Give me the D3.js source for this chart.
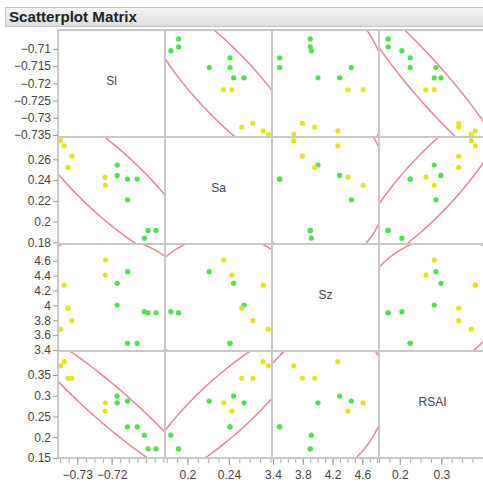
<!DOCTYPE html>
<html><head><meta charset="utf-8">
<script src="https://cdn.jsdelivr.net/npm/d3@7"></script>
<style>
body{margin:0;background:#fff}
svg{display:block}
text{font-family:"Liberation Sans",Arial,sans-serif}
</style></head>
<body>
<svg id="chart" width="483" height="483"></svg>
<script>
// ---- data ----
const varNames = ["Sl", "Sa", "Sz", "RSAI"];
const group = ["g","g","g","g","g","g","g","g","y","y","y","y","y","y"];
const Sl   = [-0.7071,-0.7094,-0.7105,-0.7126,-0.7154,-0.7154,-0.7184,-0.7184,-0.7218,-0.7219,-0.7327,-0.7316,-0.7338,-0.7348];
const Sa   = [0.1915,0.1915,0.184,0.241,0.241,0.221,0.2445,0.2545,0.235,0.2428,0.2523,0.263,0.273,0.278];
const Sz   = [3.901,3.901,3.915,3.49,3.49,4.452,4.296,4.005,4.611,4.406,3.962,3.794,4.271,3.68];
const RSAI = [0.172,0.172,0.205,0.225,0.225,0.287,0.299,0.283,0.283,0.263,0.342,0.342,0.382,0.372];
// axis extents
const domSl = [-0.7356, -0.7045];
const domSa = [0.1784, 0.2815];
const domSz = [3.387, 4.824];
const domRSAI = [0.1499, 0.4077];
// tick labels
const yTicksSl = [-0.71,-0.715,-0.72,-0.725,-0.73,-0.735];
const yTicksSa = [0.18,0.2,0.22,0.24,0.26];
const yTicksSz = [3.4,3.6,3.8,4,4.2,4.4,4.6];
const yTicksRSAI = [0.15,0.2,0.25,0.3,0.35];
const xTicksSl = [-0.73,-0.72];
const xTicksSa = [0.2,0.24];
const xTicksSz = [3.4,3.8,4.2,4.6];
const xTicksRSAI = [0.2,0.3];
const xMinorStep = [0.0025, 0.01, 0.1, 0.025];

// ---- layout ----
const cols = [Sl, Sa, Sz, RSAI];
const doms = [domSl, domSa, domSz, domRSAI];
const yTicks = [yTicksSl, yTicksSa, yTicksSz, yTicksRSAI];
const xTicks = [xTicksSl, xTicksSa, xTicksSz, xTicksRSAI];
const X0 = 58, Y0 = 30, CS = 107, N = 4;
const colorOf = {g: "#52e052", y: "#e4e41e"};
const ellipseColor = "#e3828f";
const gridColor = "#c8c8c8";
const textColor = "#444";

const svg = d3.select("#chart");

// title bar
const defs = svg.append("defs");
const grad = defs.append("linearGradient").attr("id","tb").attr("x1",0).attr("y1",0).attr("x2",0).attr("y2",1);
grad.append("stop").attr("offset","0%").attr("stop-color","#f4f4f4");
grad.append("stop").attr("offset","100%").attr("stop-color","#dedede");
svg.append("rect").attr("x",5.5).attr("y",7.5).attr("width",490).attr("height",19)
  .attr("fill","url(#tb)").attr("stroke","#c4c4c4");
svg.append("text").attr("x",9).attr("y",22).attr("font-size",14).attr("font-weight","bold")
  .attr("fill","#222").attr("textLength",128).attr("lengthAdjust","spacingAndGlyphs")
  .text("Scatterplot Matrix");

const xs = doms.map(d => d3.scaleLinear().domain(d).range([0, CS]));
const ys = doms.map(d => d3.scaleLinear().domain(d).range([CS, 0]));

// density ellipse radius (in standard deviations)
const ellK = 2.62;
function ellipse(xv, yv) {
  const mx = d3.mean(xv), my = d3.mean(yv), m = xv.length;
  let sxx = 0, syy = 0, sxy = 0;
  for (let i = 0; i < m; i++) {
    sxx += (xv[i]-mx)**2; syy += (yv[i]-my)**2; sxy += (xv[i]-mx)*(yv[i]-my);
  }
  sxx /= (m-1); syy /= (m-1); sxy /= (m-1);
  const l11 = Math.sqrt(sxx), l21 = sxy / l11, l22 = Math.sqrt(Math.max(syy - l21*l21, 0));
  return d3.range(0, 361, 2).map(a => {
    const t = a * Math.PI / 180;
    return [mx + ellK * l11 * Math.cos(t), my + ellK * (l21 * Math.cos(t) + l22 * Math.sin(t))];
  });
}

for (let r = 0; r < N; r++) {
  for (let c = 0; c < N; c++) {
    const gx = X0 + c * CS, gy = Y0 + r * CS;
    const cell = svg.append("g").attr("transform", `translate(${gx},${gy})`);
    if (r === c) {
      cell.append("text").attr("x", CS/2).attr("y", CS/2 + 1).attr("text-anchor","middle")
        .attr("font-size", 12).attr("fill", textColor).text(varNames[r]);
      continue;
    }
    const cid = `clip${r}${c}`;
    defs.append("clipPath").attr("id", cid).append("rect").attr("width", CS).attr("height", CS);
    const inner = cell.append("g").attr("clip-path", `url(#${cid})`);
    const x = xs[c], y = ys[r];
    const pts = ellipse(cols[c], cols[r]);
    inner.append("path").attr("d", d3.line().x(p => x(p[0])).y(p => y(p[1]))(pts))
      .attr("fill","none").attr("stroke", ellipseColor).attr("stroke-width", 1.4);
    inner.selectAll("circle").data(group).join("circle")
      .attr("cx", (g, i) => x(cols[c][i])).attr("cy", (g, i) => y(cols[r][i]))
      .attr("r", 2.6).attr("fill", g => colorOf[g]);
  }
}

// grid lines
const gl = svg.append("g").attr("stroke", gridColor).attr("stroke-width", 2);
for (let k = 0; k <= N; k++) {
  gl.append("line").attr("x1", X0 + k*CS).attr("x2", X0 + k*CS).attr("y1", Y0).attr("y2", Y0 + N*CS);
  gl.append("line").attr("y1", Y0 + k*CS).attr("y2", Y0 + k*CS).attr("x1", X0).attr("x2", X0 + N*CS);
}

// y axes
for (let r = 0; r < N; r++) {
  const ax = d3.axisLeft(ys[r]).tickValues(yTicks[r]).tickSize(5).tickPadding(2)
    .tickFormat(d3.format(""));
  const g = svg.append("g").attr("transform", `translate(${X0},${Y0 + r*CS})`).call(ax);
  g.select(".domain").remove();
  g.selectAll(".tick line").attr("stroke", "#999");
  g.selectAll("text").attr("font-size", 12).attr("fill", textColor)
    .style("font-family", '"Liberation Sans",Arial,sans-serif');
}
// x axes
for (let c = 0; c < N; c++) {
  const d = doms[c];
  const minor = d3.range(Math.ceil(d[0]/xMinorStep[c]), Math.floor(d[1]/xMinorStep[c]) + 1).map(k => k * xMinorStep[c]);
  const gm = svg.append("g").attr("transform", `translate(${X0 + c*CS},${Y0 + N*CS + 1})`)
    .call(d3.axisBottom(xs[c]).tickValues(minor).tickSize(4).tickFormat(""));
  gm.select(".domain").remove();
  gm.selectAll(".tick line").attr("stroke", "#aaa");
  const ax = d3.axisBottom(xs[c]).tickValues(xTicks[c]).tickSize(6).tickPadding(5)
    .tickFormat(d3.format(""));
  const g = svg.append("g").attr("transform", `translate(${X0 + c*CS},${Y0 + N*CS + 1})`).call(ax);
  g.select(".domain").remove();
  g.selectAll(".tick line").attr("stroke", "#999");
  g.selectAll("text").attr("font-size", 12).attr("fill", textColor)
    .style("font-family", '"Liberation Sans",Arial,sans-serif');
}
</script>
</body></html>
